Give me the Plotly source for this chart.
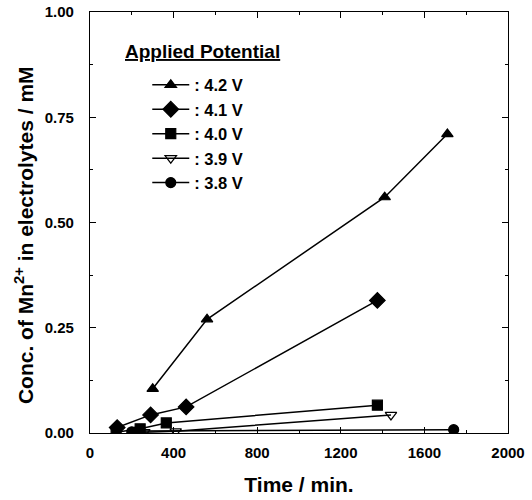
import plotly.graph_objects as go

# Data
t_42 = [300, 560, 1410, 1710]
c_42 = [0.105, 0.27, 0.56, 0.71]
t_41 = [130, 290, 460, 1375]
c_41 = [0.013, 0.043, 0.062, 0.315]
t_40 = [125, 240, 365, 1375]
c_40 = [0.002, 0.010, 0.024, 0.066]
t_39 = [260, 410, 1440]
c_39 = [0.002, 0.004, 0.043]
t_38 = [200, 230, 1740]
c_38 = [0.003, 0.005, 0.008]

labels = [": 4.2 V", ": 4.1 V", ": 4.0 V", ": 3.9 V", ": 3.8 V"]
symbols = ["triangle-up", "diamond", "square", "triangle-down-open", "circle"]
series = [(t_42, c_42), (t_41, c_41), (t_40, c_40), (t_39, c_39), (t_38, c_38)]
x_ticks = [0, 400, 800, 1200, 1600, 2000]
y_ticks = [0.0, 0.25, 0.5, 0.75, 1.0]
y_tick_text = ["0.00", "0.25", "0.50", "0.75", "1.00"]

FONT = "Liberation Sans, Arial, sans-serif"

fig = go.Figure()
for (t, c), lab, sym in zip(series, labels, symbols):
    fig.add_trace(go.Scatter(
        x=t, y=c, mode="lines+markers", name=lab,
        line=dict(color="black", width=1.5),
        marker=dict(symbol=sym, size=10 if sym != "diamond" else 12, color="black",
                    line=dict(color="black", width=1.2)),
    ))

fig.update_layout(
    width=532, height=500,
    margin=dict(l=90, r=24, t=12, b=67, autoexpand=False),
    paper_bgcolor="white", plot_bgcolor="white",
    font=dict(family=FONT, color="black", size=15, weight="bold"),
    showlegend=True,
    legend=dict(
        x=0.137, y=0.868, xanchor="left", yanchor="top",
        bgcolor="rgba(0,0,0,0)", font=dict(size=16.5, family=FONT, weight="bold"),
        itemwidth=37, tracegroupgap=0,
    ),
    annotations=[
        dict(
            x=0.079, y=0.905, xref="paper", yref="paper", xanchor="left", yanchor="middle",
            text="<u>Applied Potential</u>", showarrow=False,
            font=dict(size=19, family=FONT, weight="bold"),
        ),
        dict(
            x=-0.158, y=0.47, xref="paper", yref="paper", xanchor="center", yanchor="middle",
            text="Conc. of Mn<sup>2+</sup> in electrolytes / mM", textangle=-90, showarrow=False,
            font=dict(size=21, family=FONT, weight="bold"),
        ),
    ],
)

fig.update_xaxes(
    range=[0, 2000], tickvals=x_ticks, ticktext=[str(v) for v in x_ticks],
    ticks="inside", ticklen=6, tickwidth=1, tickcolor="black",
    minor=dict(dtick=200, ticks="inside", ticklen=3, tickcolor="black"),
    showline=True, linecolor="black", linewidth=1.2, mirror="allticks",
    showgrid=False, zeroline=False, automargin=False,
    tickfont=dict(size=15, family=FONT, weight="bold"), ticklabelstandoff=6,
    title=dict(text="Time / min.", font=dict(size=21, family=FONT, weight="bold"), standoff=17),
)
fig.update_yaxes(
    range=[0, 1.0], tickvals=y_ticks, ticktext=y_tick_text,
    ticks="inside", ticklen=6, tickwidth=1, tickcolor="black",
    minor=dict(dtick=0.125, ticks="inside", ticklen=3, tickcolor="black"),
    showline=True, linecolor="black", linewidth=1.2, mirror="allticks",
    showgrid=False, zeroline=False, automargin=False,
    tickfont=dict(size=15, family=FONT, weight="bold"), ticklabelstandoff=12,
)

fig.write_html("out.html")
